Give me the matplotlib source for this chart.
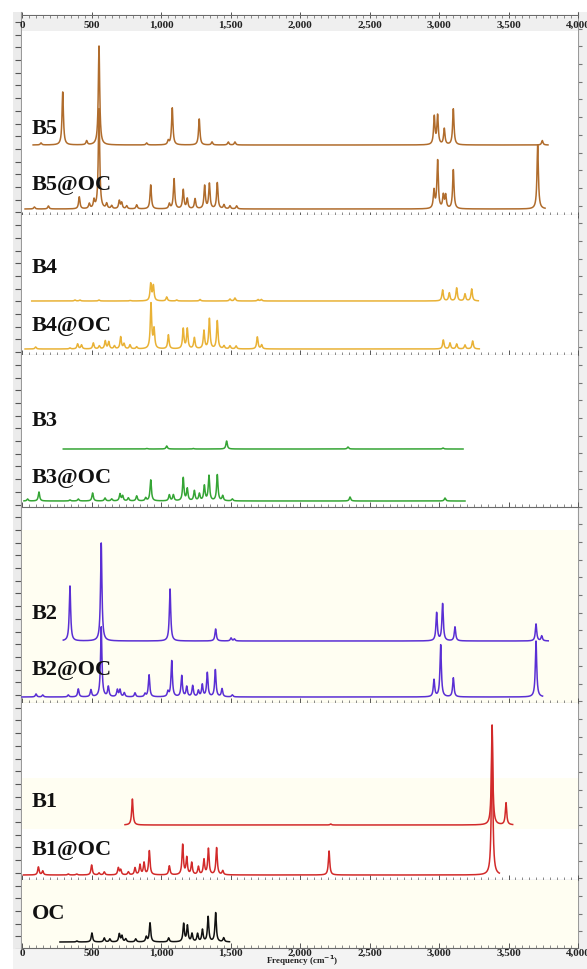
import numpy as np
import matplotlib
matplotlib.use('Agg')
import matplotlib.pyplot as plt
from matplotlib.ticker import MultipleLocator
from matplotlib.transforms import blended_transform_factory

W, H = 587, 969
fig = plt.figure(figsize=(W / 100, H / 100), dpi=100)
fig.patch.set_facecolor('white')

SERIF = ['Liberation Serif', 'DejaVu Serif']

# ---------------- data (peak positions in cm-1, relative intensities) -------------
x_ticks = [0, 500, 1000, 1500, 2000, 2500, 3000, 3500, 4000]
x_tick_labels = ['0', '500', '1,000', '1,500', '2,000', '2,500', '3,000', '3,500', '4,000']

b5_range = (80, 3784)
b5_pos = [137, 293, 465, 554, 897, 1052, 1081, 1275, 1367, 1484, 1532, 2966, 2990, 3038, 3103, 3743]
b5_int = [2, 53, 4, 99, 2, 4, 37, 26, 3, 3, 3, 28, 29, 16, 36, 4.5]

b5oc_range = (22, 3763)
b5oc_pos = [89, 190, 412, 484, 518, 554, 609, 645, 700, 717, 753, 825, 926, 1060, 1094, 1160, 1189,
            1245, 1314, 1348, 1405, 1453, 1496, 1544, 2964, 2990, 3031, 3048, 3103, 3710]
b5oc_int = [2, 3, 12, 5, 8, 100, 5, 3, 8, 6, 3, 4, 24, 5, 30, 19, 10,
            10, 23, 25, 26, 4, 3, 3, 18, 48, 13, 13, 39, 64]

b4_range = (70, 3283)
b4_pos = [381, 417, 554, 777, 926, 945, 1041, 1113, 1281, 1496, 1532, 1698, 1722, 3026, 3074, 3127, 3187, 3235]
b4_int = [1, 1, 1, 0.5, 17, 15, 4, 1, 1.5, 2, 3, 1.5, 1.5, 11, 8, 13, 7, 12]

b4oc_range = (22, 3290)
b4oc_pos = [98, 345, 400, 428, 513, 556, 599, 624, 665, 710, 734, 777, 825, 928, 950, 1053, 1160, 1189,
            1240, 1309, 1348, 1405, 1453, 1496, 1540, 1693, 1724, 3031, 3079, 3127, 3187, 3242]
b4oc_int = [2, 1, 5, 4, 6, 3, 8, 7, 3, 12, 5, 4, 2, 45, 19, 14, 20, 20,
            11, 18, 30, 28, 3, 3, 3, 12, 4, 9, 6, 5, 4, 8]

b3_range = (297, 3173)
b3_pos = [897, 1041, 1233, 1472, 2345, 3029]
b3_int = [0.5, 3, 0.5, 8, 2, 1]

b3oc_range = (14, 3187)
b3oc_pos = [40, 122, 345, 405, 508, 597, 645, 705, 724, 765, 825, 890, 926, 1060, 1089, 1160, 1189,
            1240, 1276, 1312, 1345, 1405, 1444, 1513, 2360, 3043]
b3oc_int = [2, 9, 1, 2, 8, 3, 2, 7, 5, 3, 5, 3, 21, 6, 6, 23, 12,
            10, 7, 15, 25, 26, 5, 2, 4, 3]

b2_range = (297, 3786)
b2_pos = [345, 570, 1065, 1393, 1504, 1528, 2983, 3026, 3115, 3698, 3739]
b2_int = [55, 98, 52, 12, 3, 2, 28, 37, 14, 17, 5]

b2oc_range = (0, 3745)
b2oc_pos = [101, 149, 333, 405, 496, 570, 621, 686, 705, 736, 813, 885, 914, 1050, 1077, 1149, 1185,
            1228, 1269, 1297, 1333, 1391, 1439, 1513, 2964, 3012, 3103, 3698]
b2oc_int = [3, 2, 2, 8, 7, 70, 10, 7, 7, 4, 4, 3, 22, 5, 36, 21, 10,
            11, 6, 12, 24, 27, 8, 2, 17, 52, 19, 56]

b1_range = (741, 3530)
b1_pos = [794, 2221, 3382, 3482]
b1_int = [26, 1, 100, 22]

b1oc_range = (10, 3434)
b1oc_pos = [118, 149, 333, 393, 501, 554, 592, 693, 710, 765, 813, 849, 878, 916, 1060, 1156, 1185,
            1221, 1269, 1309, 1341, 1400, 1444, 2209, 3382]
b1oc_int = [8, 4, 1, 1, 10, 2, 3, 7, 5, 3, 7, 10, 12, 24, 9, 30, 17,
            12, 8, 15, 26, 27, 4, 24, 146]

oc_range = (273, 1493)
oc_pos = [395, 503, 592, 632, 700, 719, 746, 818, 894, 921, 1055, 1163, 1190, 1223, 1263, 1298, 1339, 1393, 1451]
oc_int = [1, 9, 4, 3, 8, 6, 3, 3, 5, 19, 4, 18, 16, 8, 8, 12, 25, 29, 4]

C_B5, C_B4, C_B3, C_B2, C_B1, C_OC = '#b06c2c', '#e9b236', '#35a535', '#5a2fd4', '#d22a2a', '#111111'
CREAM = '#fffef2'


def px_axes(x0, y0, x1, y1, **kw):
    return fig.add_axes([x0 / W, 1 - y1 / H, (x1 - x0) / W, (y1 - y0) / H], **kw)


def spectrum(rng, pos, inten, hw=6.0):
    grid = np.arange(rng[0], rng[1] + 0.5, 0.5)
    p = np.asarray(pos, float)[:, None]
    a = np.asarray(inten, float)[:, None]
    return grid, (a / (1 + ((grid[None, :] - p) / hw) ** 2)).sum(axis=0)


X0, X1 = 22, 578

# ---------- side strips ----------
left = px_axes(13, 12, 21, 949)
left.set_facecolor('#ebebeb')
left.set_xlim(0, 1)
left.set_ylim(0, 937)
for s in ['top', 'bottom', 'left']:
    left.spines[s].set_visible(False)
left.spines['right'].set_color('#9a9a9a')
left.yaxis.set_ticks_position('right')
left.yaxis.set_major_locator(MultipleLocator(12.7))
left.tick_params(axis='y', direction='in', length=4, color='#555555', labelright=False, labelleft=False)
left.set_xticks([])

right = px_axes(578, 12, 587, 949)
right.set_facecolor('#f0f0f0')
right.set_xlim(0, 1)
right.set_ylim(0, 937)
for s in ['top', 'bottom', 'right']:
    right.spines[s].set_visible(False)
right.spines['left'].set_color('#9a9a9a')
right.yaxis.set_ticks_position('left')
right.yaxis.set_major_locator(MultipleLocator(17.7))
right.tick_params(axis='y', direction='in', length=3, color='#777777', labelright=False, labelleft=False)
right.set_xticks([])

bstrip = px_axes(13, 949, 587, 969)
bstrip.set_axis_off()
bstrip.add_patch(plt.Rectangle((0, 0), 1, 1, transform=bstrip.transAxes, color='#f3f3f3', zorder=0))

# ---------- panels ----------
panels = [
    (15, 215, 'white', [('B5', C_B5, b5_range, b5_pos, b5_int, 145, 134),
                        ('B5@OC', C_B5, b5oc_range, b5oc_pos, b5oc_int, 209, 190)]),
    (215, 355, 'white', [('B4', C_B4, b4_range, b4_pos, b4_int, 301, 273),
                         ('B4@OC', C_B4, b4oc_range, b4oc_pos, b4oc_int, 349, 331)]),
    (355, 507, 'white', [('B3', C_B3, b3_range, b3_pos, b3_int, 449, 426),
                         ('B3@OC', C_B3, b3oc_range, b3oc_pos, b3oc_int, 501, 483)]),
    (530, 703, CREAM, [('B2', C_B2, b2_range, b2_pos, b2_int, 641, 619),
                       ('B2@OC', C_B2, b2oc_range, b2oc_pos, b2oc_int, 697, 675)]),
    (703, 880, 'white', [('B1', C_B1, b1_range, b1_pos, b1_int, 825, 807),
                         ('B1@OC', C_B1, b1oc_range, b1oc_pos, b1oc_int, 875, 855)]),
    (880, 948, CREAM, [('OC', C_OC, oc_range, oc_pos, oc_int, 942, 919)]),
]

axes = []
for i, (top, bot, bg, specs) in enumerate(panels):
    ax = px_axes(X0, top, X1, bot)
    ax.set_facecolor(bg)
    ax.set_xlim(0, 4000)
    ax.set_ylim(bot, top)
    for s in ['top', 'left', 'right']:
        ax.spines[s].set_visible(False)
    ax.spines['bottom'].set_color('#6a6a6a')
    ax.spines['bottom'].set_linewidth(0.8)
    ax.set_yticks([])
    ax.xaxis.set_major_locator(MultipleLocator(500))
    ax.xaxis.set_minor_locator(MultipleLocator(50))
    ax.tick_params(axis='x', which='major', direction='in', length=3.5, width=0.7, color='#555555',
                   labelbottom=False)
    ax.tick_params(axis='x', which='minor', direction='in', length=2, width=0.6, color='#777777')
    if i == 4:
        ax.axhspan(778, 829, color=CREAM, zorder=0, lw=0)
    for (lab, col, rng, pos, inten, base, lab_y) in specs:
        g, y = spectrum(rng, pos, inten)
        ax.plot(g, base - y, color=col, lw=1.1, clip_on=False, zorder=3)
        fig.text(32 / W, 1 - lab_y / H, lab, family=SERIF, fontweight='bold', fontsize=16,
                 ha='left', va='baseline', color='#111111', zorder=5)
    axes.append(ax)

# top axis: tick line at y=15 with label strip below
top_ax = axes[0]
top_ax.axhspan(16.5, 31, color='#efefef', zorder=0, lw=0)
top_ax.spines['top'].set_visible(True)
top_ax.spines['top'].set_color('#6a6a6a')
top_ax.spines['top'].set_linewidth(0.8)
top_ax.tick_params(axis='x', which='both', top=True)
top_ax.tick_params(axis='x', which='major', direction='inout', length=4)
trans = blended_transform_factory(top_ax.transData, top_ax.transData)
for v, t in zip(x_ticks, x_tick_labels):
    top_ax.text(v, 25, t, transform=trans, ha='center', va='center', family=SERIF,
                fontweight='bold', fontsize=8, color='#222222', zorder=4, clip_on=False)

# bottom axis labels
bot_ax = axes[-1]
bot_ax.tick_params(axis='x', which='major', labelbottom=True, pad=0.5, labelsize=8)
bot_ax.set_xticks(x_ticks)
bot_ax.set_xticklabels(x_tick_labels)
for lbl in bot_ax.get_xticklabels():
    lbl.set_family(SERIF)
    lbl.set_fontweight('bold')
    lbl.set_color('#222222')
fig.text(302 / W, 1 - 968.5 / H, 'Frequency (cm$^{\\mathbf{-1}}$)', family=SERIF, fontweight='bold',
         fontsize=6.5, ha='center', va='bottom', color='#222222')

fig.savefig('out.png', dpi=100, facecolor='white')
